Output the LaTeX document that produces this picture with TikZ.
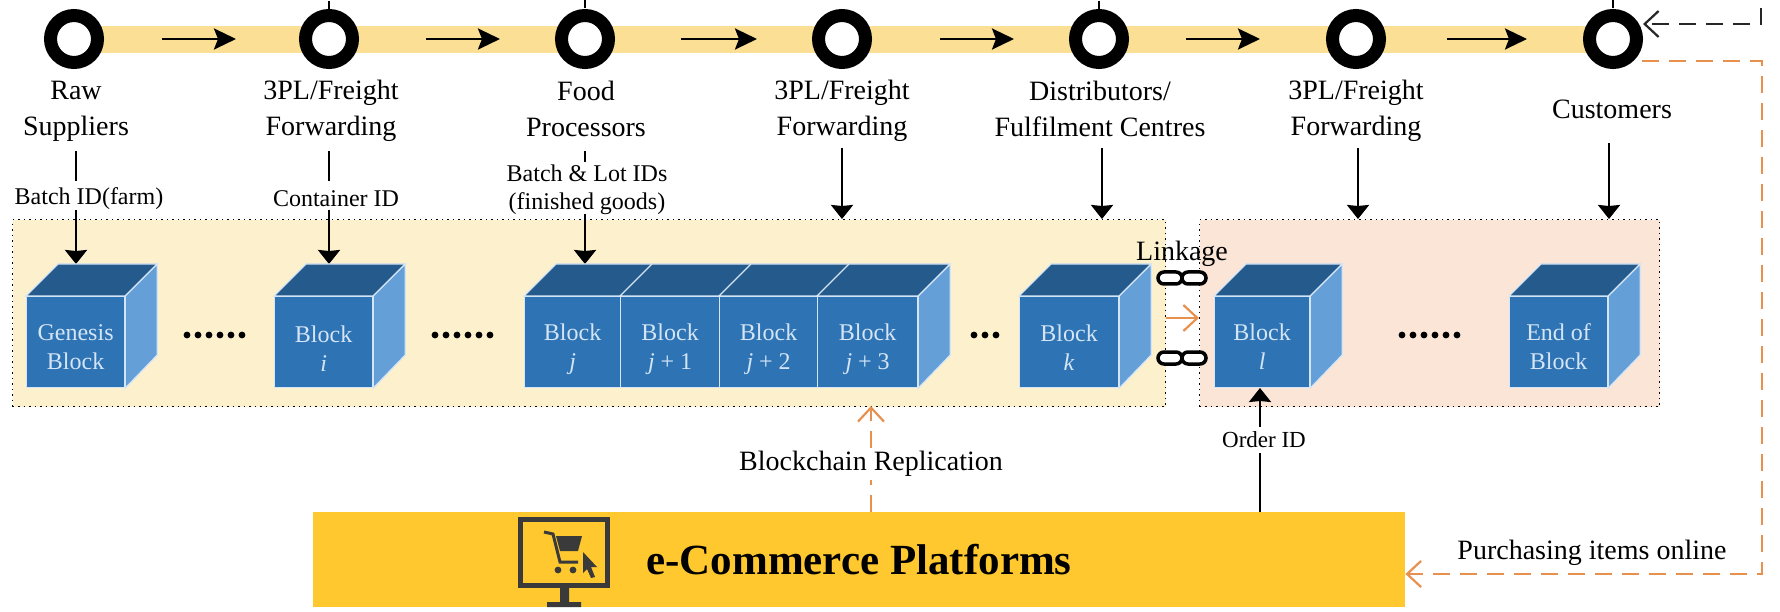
\documentclass[tikz,border=0pt]{standalone}
\usepackage{amsmath,amssymb}
\usepackage{xcolor}
\usepackage{fontspec}
\setmainfont{Liberation Serif}
\usetikzlibrary{arrows.meta}
\definecolor{bandcol}{HTML}{FBDF94}
\definecolor{panelyel}{HTML}{FDF0CD}
\definecolor{panelpink}{HTML}{FBE5D6}
\definecolor{frontcol}{HTML}{2E74B5}
\definecolor{topcol}{HTML}{255A8C}
\definecolor{sidecol}{HTML}{659FD8}
\definecolor{edgecol}{HTML}{D5E5F5}
\definecolor{platcol}{HTML}{FFC82E}
\definecolor{iconcol}{HTML}{3A3A3A}
\definecolor{orangecol}{HTML}{E8914F}
\newcommand{\blocktop}[1]{\draw[edgecol, fill=topcol, line width=1.2]
    (#1.north west) -- ++(32,-32) -- ([shift={(32,-32)}]#1.north east) -- (#1.north east) -- cycle;}
\newcommand{\blockside}[1]{\draw[edgecol, fill=sidecol, line width=1.2]
    (#1.north east) -- ++(32,-32) -- ++(0,91) -- (#1.south east) -- cycle;}
\begin{document}
\begin{tikzpicture}[x=1pt, y=-1pt]
        \tikzstyle{stage} = [circle, draw=black, fill=white, line width=13, minimum size=47, inner sep=0]
        \tikzstyle{bigtext} = [inner sep=0, align=center, font=\fontsize{28}{36}\selectfont]
        \tikzstyle{smalltext} = [inner sep=0, align=center, font=\fontsize{24}{28}\selectfont]
        \tikzstyle{blockface} = [rectangle, draw=edgecol, fill=frontcol, line width=1.2, anchor=north west,
            minimum height=91, inner sep=0, text=edgecol, align=center, font=\fontsize{24}{29}\selectfont]
        \tikzstyle{flowarrow} = [line width=2.8, -{Stealth[length=22, width=21, inset=4]}]
        \tikzstyle{idarrow} = [line width=2.4, -{Stealth[length=14, width=22, inset=1]}]
        \tikzstyle{orangedash} = [draw=orangecol, line width=2.2, dash pattern=on 17 off 10, -{Straight Barb[length=14, width=26]}]
        \tikzstyle{panel} = [draw=black, line width=1.2, dash pattern=on 1.5 off 4, minimum height=187, inner sep=0, anchor=north west]
        \tikzstyle{chainlink} = [rectangle, draw=black, fill=white, line width=3.5, rounded corners=6,
            minimum width=24, minimum height=12, inner sep=0]
        \useasboundingbox (0,0) rectangle (1780,612);

        \coordinate (bandstart) at (73,26);
        \coordinate (bandend) at (1613,53);
        \fill[bandcol] (bandstart) rectangle (bandend);
        \foreach \name/\x in {raw/74, forwarda/329, food/585, forwardb/842, dist/1099, forwardc/1356, cust/1613}
            \node[stage] (\name) at (\x,39) {};
        \foreach \from/\to in {162/236, 426/500, 681/757, 940/1014, 1186/1260, 1447/1527} {
            \coordinate (flowa) at (\from,39);
            \coordinate (flowb) at (\to,39);
            \draw[flowarrow] (flowa) -- (flowb);
        }
        \foreach \x/\yend in {585/8, 1613/8, 329/9, 1099/9} {
            \coordinate (stuba) at (\x,\yend-8);
            \coordinate (stubb) at (\x,\yend);
            \draw[line width=2] (stuba) -- (stubb);
        }

        \node[bigtext] (rawtext) at (76,111) {Raw\\Suppliers};
        \node[bigtext] (fwdatext) at (331,111) {3PL/Freight\\Forwarding};
        \node[bigtext] (foodtext) at (586,109) {Food\\Processors};
        \node[bigtext] (fwdbtext) at (842,111) {3PL/Freight\\Forwarding};
        \node[bigtext] (disttext) at (1100,109) {Distributors/\\Fulfilment Centres};
        \node[bigtext] (fwdctext) at (1356,111) {3PL/Freight\\Forwarding};
        \node[bigtext] (custtext) at (1612,109) {Customers};

        \node[panel, fill=panelyel, minimum width=1153] (chainpanel) at (12,219) {};
        \node[panel, fill=panelpink, minimum width=460] (orderpanel) at (1199,219) {};

        \node[smalltext] (batchid) at (89,199) {Batch ID(farm)};
        \node[smalltext] (contid) at (336,199) {Container ID};
        \node[smalltext] (lotid) at (587,190) {Batch \& Lot IDs\\(finished goods)};
        \foreach \x/\ua/\ub/\la in {76/151/181/210, 329/151/181/210, 585/151/162/214} {
            \coordinate (uppera) at (\x,\ua);
            \coordinate (upperb) at (\x,\ub);
            \coordinate (lowera) at (\x,\la);
            \coordinate (lowerb) at (\x,264);
            \draw[line width=2.2] (uppera) -- (upperb);
            \draw[idarrow] (lowera) -- (lowerb);
        }
        \foreach \x/\ya in {842/148, 1102/148, 1358/148, 1609/143} {
            \coordinate (downa) at (\x,\ya);
            \coordinate (downb) at (\x,219);
            \draw[idarrow] (downa) -- (downb);
        }

        \node[blockface, minimum width=98] (genesis) at (26,296) {\rule{0pt}{26pt}Genesis\\Block};
        \node[blockface, minimum width=98] (blocki) at (274,296) {\rule{0pt}{30pt}Block\\\textit{i}};
        \node[blockface, minimum width=96] (blockj) at (524,296) {\rule{0pt}{30pt}Block\\\textit{j}};
        \node[blockface, minimum width=99] (blockja) at (620,296) {\rule{0pt}{30pt}Block\\\textit{j} + 1};
        \node[blockface, minimum width=98] (blockjb) at (719,296) {\rule{0pt}{30pt}Block\\\textit{j} + 2};
        \node[blockface, minimum width=100] (blockjc) at (817,296) {\rule{0pt}{30pt}Block\\\textit{j} + 3};
        \node[blockface, minimum width=99] (blockk) at (1019,296) {\rule{0pt}{28pt}Block\\\textit{k}};
        \node[blockface, minimum width=95] (blockl) at (1214,296) {\rule{0pt}{26pt}Block\\\textit{l}};
        \node[blockface, minimum width=98] (blockend) at (1509,296) {\rule{0pt}{26pt}End of\\Block};
        \foreach \name in {genesis, blocki, blockj, blockja, blockjb, blockjc, blockk, blockl, blockend}
            {\blocktop{\name}}
        \foreach \name in {genesis, blocki, blockjc, blockk, blockl, blockend}
            {\blockside{\name}}

        \foreach \from/\n in {184/6, 432/6, 971/3, 1399/6}
            \foreach \i in {1,...,\n}
                \fill (\from+\i*11-11+3,335) circle (3.4);

        \node[bigtext] (linkage) at (1182,254) {Linkage};
        \foreach \y/\name in {278/linka, 358/linkb} {
            \node[chainlink] (\name l) at (1170,\y) {};
            \node[chainlink] (\name r) at (1194,\y) {};
            \draw[line width=4.5] (\name l) -- (\name r);
        }
        \coordinate (handa) at (1166,318);
        \coordinate (handb) at (1199,318);
        \draw[orangedash, dash pattern=on 17 off 0] (handa) -- (handb);

        \node[fill=platcol, minimum width=1092, minimum height=95, inner sep=0, anchor=north west] (platform) at (313,512) {};
        \node[inner sep=0, font=\fontsize{43}{50}\selectfont\bfseries] (platformtext) at (859,560) {e-Commerce Platforms};

        \node[draw=iconcol, line width=5, minimum width=87, minimum height=66, inner sep=0, anchor=north west] (monitor) at (518,517) {};
        \fill[iconcol] (560,586) rectangle (569,603) (547,602) rectangle (581,607);
        \draw[iconcol, line width=3] (544,532) -- (553,534) -- (560,562) -- (578,562);
        \fill[iconcol] (556,536) -- (582,536) -- (578,551) -- (560,551) -- cycle;
        \fill[iconcol] (558,570) circle (3.4) (573,570) circle (3.4);
        \fill[iconcol] (583,552) -- (597,567) -- (591,567) -- (595,577) -- (591,578) -- (587,569) -- (583,573) -- cycle;

        \node[bigtext, text height=19, text depth=6, inner ysep=3] (replic) at (871,464) {Blockchain Replication};
        \draw[orangedash, -] (platform.north -| replic.south) -- (replic.south);
        \coordinate (replictip) at (871,406);
        \draw[orangedash] (replic.north) -- (replictip);

        \node[smalltext, font=\fontsize{23}{28}\selectfont] (orderid) at (1264,440) {Order ID};
        \coordinate (ordera) at (1260,512);
        \coordinate (orderb) at (1260,453);
        \coordinate (orderc) at (1260,427);
        \coordinate (orderd) at (1260,388);
        \draw[line width=2.4] (ordera) -- (orderb);
        \draw[idarrow] (orderc) -- (orderd);

        \coordinate (blacka) at (1761,8);
        \coordinate (blackb) at (1643,24);
        \draw[orangedash, draw=black!85] (blacka) |- (blackb);
        \coordinate (orangea) at (1642,61);
        \coordinate (orangeb) at (1762,574);
        \draw[orangedash] (orangea) -| (orangeb) -- (platform.east |- orangeb);
        \node[bigtext] (purchase) at (1592,553) {Purchasing items online};
\end{tikzpicture}
\end{document}
